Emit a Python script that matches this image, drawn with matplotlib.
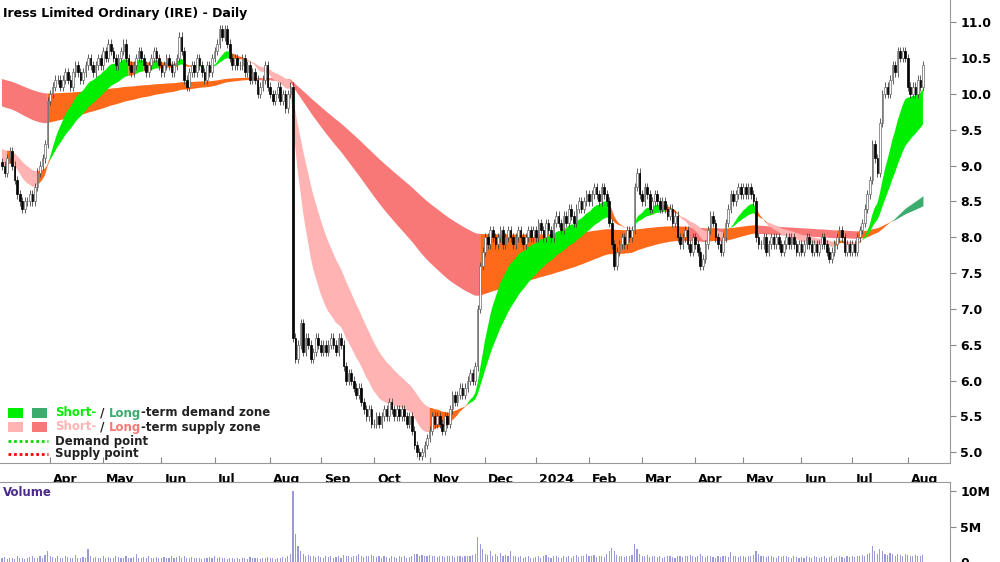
import matplotlib
matplotlib.use("Agg")
import matplotlib.pyplot as plt
import numpy as np

closes_by_month = [
    [9.0,8.9,9.1,9.2,9.0,8.8,8.6,8.5,8.4,8.5,8.5,8.6,8.5,8.7,8.9,9.0,9.1,9.3,9.9],
    [10.0,10.1,10.2,10.2,10.1,10.2,10.3,10.2,10.1,10.3,10.4,10.3,10.2,10.3,10.4,10.5,10.4,10.3,10.4,10.5,10.4],
    [10.6,10.5,10.7,10.6,10.5,10.4,10.5,10.6,10.7,10.5,10.4,10.3,10.4,10.5,10.6,10.5,10.4,10.3,10.4,10.5,10.6,10.5,10.4],
    [10.3,10.4,10.5,10.4,10.3,10.4,10.5,10.8,10.6,10.2,10.1,10.3,10.4,10.3,10.5,10.4,10.3,10.2,10.4,10.3,10.5],
    [10.6,10.7,10.9,10.8,10.9,10.7,10.5,10.4,10.5,10.4,10.4,10.5,10.3,10.4,10.2,10.3,10.2,10.0,10.1,10.2,10.4,10.1],
    [10.0,9.9,10.0,10.1,9.9,10.0,9.8,10.0,10.1,6.6,6.3,6.5,6.8,6.4,6.6,6.5,6.3,6.4,6.6,6.5],
    [6.4,6.5,6.4,6.5,6.6,6.5,6.4,6.6,6.5,6.2,6.0,6.1,6.0,5.9,5.8,5.9,5.7,5.6,5.5,5.6,5.4],
    [5.4,5.5,5.4,5.5,5.6,5.5,5.7,5.6,5.5,5.6,5.5,5.6,5.5,5.4,5.5,5.3,5.1,5.0,4.95,5.0,5.1,5.2],
    [5.3,5.5,5.4,5.5,5.4,5.3,5.5,5.4,5.6,5.8,5.7,5.8,5.9,5.8,5.9,6.0,6.1,6.0,6.2,7.0,7.6,7.8],
    [8.0,7.9,8.1,8.0,7.9,8.0,8.1,7.9,8.0,8.1,8.0,7.9,8.0,8.1,8.0,7.9,8.0,8.1,8.0,8.1],
    [8.0,8.2,8.1,8.0,8.2,8.1,8.0,8.2,8.3,8.2,8.1,8.3,8.2,8.4,8.3,8.2,8.4,8.5,8.4,8.5,8.6],
    [8.5,8.6,8.7,8.6,8.5,8.7,8.6,8.5,8.2,7.9,7.6,7.8,7.9,8.0,7.9,8.1,8.0,8.1,8.7,8.9,8.6],
    [8.5,8.7,8.6,8.4,8.5,8.6,8.5,8.4,8.5,8.4,8.3,8.4,8.2,8.3,8.0,7.9,8.0,8.1,7.9,7.8,8.0],
    [7.9,7.8,7.6,7.7,7.9,8.1,8.3,8.2,8.0,7.9,7.8,8.0,8.2,8.4,8.6,8.5,8.6,8.7,8.6],
    [8.7,8.6,8.7,8.6,8.5,8.0,7.9,7.9,8.0,7.8,7.9,8.0,7.9,8.0,7.9,7.8,7.9,8.0,7.9,8.0,7.9,7.8,7.9],
    [7.8,7.9,8.0,7.9,7.8,7.9,7.8,7.9,8.0,7.9,7.8,7.7,7.8,7.9,8.0,8.1,8.0,7.8,7.9,7.8],
    [7.9,7.8,8.0,8.1,8.2,8.4,8.6,8.8,9.3,9.1,8.9,9.6,10.0,10.1,10.0,10.2,10.4,10.3,10.6,10.5,10.6,10.5],
    [10.1,10.0,10.1,10.0,10.2,10.1,10.4],
]
# volume in millions
volume_by_month = [
    [0.5,0.7,0.4,0.6,0.5,0.4,0.8,0.5,0.6,0.4,0.5,0.7,0.9,0.6,0.5,0.8,0.6,1.0,1.6],
    [0.9,0.7,0.6,0.8,0.5,0.6,0.9,0.7,0.5,0.6,1.0,0.6,0.5,0.7,0.6,1.8,0.8,0.6,0.7,0.5,0.6],
    [0.8,0.6,0.7,0.5,0.6,0.9,0.7,0.5,0.6,0.8,0.6,0.5,0.7,1.2,0.6,0.5,0.7,0.6,0.8,0.5,0.6,0.7,0.5],
    [0.6,0.7,0.5,0.6,0.8,0.5,0.7,0.9,0.6,0.8,0.5,0.6,0.7,0.5,0.6,0.5,0.4,0.6,0.5,0.7,0.5],
    [0.8,0.6,0.7,0.5,0.6,0.4,0.5,0.6,0.4,0.5,0.4,0.6,0.5,0.4,0.7,0.5,0.6,0.5,0.4,0.6,0.5,0.7],
    [0.5,0.6,0.4,0.5,0.6,0.7,0.5,0.9,1.2,10.0,4.0,2.2,1.5,1.2,0.9,1.0,0.8,0.9,0.7,0.8],
    [0.7,0.6,0.8,0.7,0.9,0.6,0.7,0.8,0.6,1.0,0.9,0.8,0.7,0.9,0.8,1.2,0.8,0.7,0.9,0.8,1.0],
    [0.8,0.7,0.9,0.6,0.8,0.7,0.6,0.8,0.7,0.6,0.9,0.7,0.8,0.6,0.7,0.9,1.1,1.2,0.9,1.0,0.8,0.9],
    [1.0,0.8,0.9,0.7,0.8,0.9,0.7,0.8,0.9,0.8,0.7,0.9,0.8,0.7,0.8,0.9,0.8,1.0,1.2,3.5,2.5,1.8],
    [1.2,1.0,1.6,0.9,1.1,0.8,1.3,0.9,1.0,0.8,1.5,0.9,0.8,0.7,0.9,0.6,0.7,0.8,0.5,0.6],
    [0.7,0.9,0.6,0.8,1.0,0.7,0.6,0.8,0.9,0.7,0.6,0.8,0.7,0.9,0.6,0.8,1.0,0.7,0.9,0.8,1.1],
    [0.9,0.8,1.0,0.7,0.8,0.9,0.7,1.2,1.5,2.0,1.6,1.0,0.9,0.8,0.7,0.8,0.9,1.0,2.5,1.8,1.2],
    [0.9,0.8,1.0,0.7,0.8,0.9,0.7,0.8,0.6,0.7,0.9,0.8,0.7,0.6,0.8,0.9,0.7,0.8,0.9,1.0,0.8],
    [0.7,0.9,1.1,0.8,0.7,0.9,0.8,0.7,0.6,0.8,0.7,0.9,0.8,0.7,1.4,0.9,0.8,0.7,0.9],
    [0.8,0.7,0.9,0.8,1.0,1.6,1.2,0.9,0.8,0.7,0.9,0.8,0.7,0.6,0.8,0.7,0.9,0.8,0.7,0.6,0.8,0.7,0.6],
    [0.7,0.6,0.8,0.7,0.6,0.8,0.7,0.6,0.7,0.8,0.6,0.7,0.8,0.6,0.7,0.9,0.7,0.6,0.8,0.7],
    [0.8,0.7,0.9,0.8,1.0,0.9,1.1,1.3,2.2,1.5,1.2,1.8,1.6,1.2,1.0,1.3,1.1,0.9,1.2,1.0,0.9,1.1],
    [1.0,0.9,0.8,1.0,0.9,0.8,1.0],
]
tick_labels = ["Apr", "May", "Jun", "Jul", "Aug", "Sep", "Oct", "Nov", "Dec",
               "2024", "Feb", "Mar", "Apr", "May", "Jun", "Jul", "Aug"]

close = np.array([c for m in closes_by_month for c in m])
vol = np.array([v for m in volume_by_month for v in m]) * 1e6
n = len(close)
idx = np.arange(n)
month_starts = np.cumsum([0] + [len(m) for m in closes_by_month])[1:-1]

opn = np.concatenate([[close[0] + 0.05], close[:-1]])
hi = np.maximum(opn, close) + 0.06
lo = np.minimum(opn, close) - 0.06

def ema(x, p, seed):
    a = 2.0 / (p + 1)
    out = np.empty_like(x)
    v = seed
    for i, xi in enumerate(x):
        v = v + a * (xi - v)
        out[i] = v
    return out

s_fast = ema(close, 15, 9.0)
s_slow = ema(close, 32, 9.25)
l_fast = ema(close, 130, 9.84)
l_slow = ema(close, 220, 10.22)

fig = plt.figure(figsize=(10, 5.62), dpi=100)
ax = fig.add_axes([0, 1 - 463 / 562, 0.95, 463 / 562])
axv = fig.add_axes([0, 0, 0.95, 80 / 562])
xlim = (-0.8, 374.7)

def draw_zone(fast, slow, up_col, dn_col):
    lowb = np.minimum(fast, slow)
    upb = np.maximum(fast, slow)
    raw = np.where(fast >= slow, np.where(close < fast, 2, 0),
                   np.where(close > fast, 2, 1))
    # a state change only counts once it holds for two days
    cls = raw.copy()
    for i in range(1, n):
        if raw[i] != cls[i - 1] and not (i + 1 < n and raw[i + 1] == raw[i]):
            cls[i] = cls[i - 1]
    cols = {0: up_col, 1: dn_col, 2: "#ff6a1a"}
    for k, c in cols.items():
        m = cls == k
        m2 = m | np.concatenate([[False], m[:-1]])
        ax.fill_between(idx, lowb, upb, where=m2, color=c, lw=0, zorder=1)

draw_zone(l_fast, l_slow, "#3cab6e", "#f87878")
draw_zone(s_fast, s_slow, "#00ee00", "#ffb3b3")

# candles
up = close >= opn
ax.vlines(idx, lo, hi, color="#444444", lw=0.6, zorder=3)
ax.bar(idx[up], (close - opn)[up], bottom=opn[up], width=0.65,
       color="white", edgecolor="#666666", lw=0.5, zorder=4)
ax.bar(idx[~up], (close - opn)[~up], bottom=opn[~up], width=0.65,
       color="black", edgecolor="black", lw=0.5, zorder=4)

ax.set_xlim(*xlim)
ax.set_ylim(4.85, 11.31)
ax.yaxis.tick_right()
ax.set_yticks(np.arange(5.0, 11.01, 0.5))
ax.set_yticklabels([f"{v:.1f}" for v in np.arange(5.0, 11.01, 0.5)],
                   fontsize=9, fontweight="bold")
ax.set_xticks(month_starts)
ax.set_xticklabels([])
ax.tick_params(axis="x", direction="in", length=4, color="#888888")
ax.tick_params(axis="y", length=4, color="#888888")
for s in ["top", "left"]:
    ax.spines[s].set_visible(False)
for s in ["right", "bottom"]:
    ax.spines[s].set_color("#999999")
for m, lab in zip(month_starts, tick_labels):
    ax.text(m + 1.2, -0.035, lab, transform=ax.get_xaxis_transform(),
            fontsize=9, fontweight="bold", va="center", ha="left", clip_on=False)
ax.text(0.003, 0.985, "Iress Limited Ordinary (IRE) - Daily",
        transform=ax.transAxes, fontsize=9, fontweight="bold", va="top")

# legend
def px(x, y):
    return (x / 950, 1 - y / 463)

for row, (c1, c2) in enumerate([("#00ee00", "#3cab6e"), ("#ffb3b3", "#f87878")]):
    y = 413 + row * 14
    for x0, c in [(8, c1), (32, c2)]:
        ax.add_patch(plt.Rectangle(px(x0, y + 5), 15 / 950, 10 / 463,
                                   transform=ax.transAxes, color=c, lw=0, zorder=5))
    parts = [("Short-", c1), (" / ", "#222222"), ("Long", c2),
             ("-term demand zone" if row == 0 else "-term supply zone", "#222222")]
    t = ax.text(*px(55, y), parts[0][0], transform=ax.transAxes, color=parts[0][1],
                fontsize=8.5, fontweight="bold", va="center", zorder=6)
    for txt, c in parts[1:]:
        t = ax.annotate(txt, xy=(1, 0), xycoords=t, color=c, fontsize=8.5,
                        fontweight="bold", va="bottom", zorder=6)
for row, (c, lab) in enumerate([("#00dd00", "Demand point"), ("#ff0000", "Supply point")]):
    y = 441 + row * 13
    ax.plot([8 / 950, 48 / 950], [1 - y / 463] * 2, transform=ax.transAxes,
            color=c, lw=2, ls=(0, (1, 1)), zorder=6)
    ax.text(*px(55, y), lab, transform=ax.transAxes, fontsize=8.5,
            fontweight="bold", va="center", color="#222222", zorder=6)

# volume
axv.bar(idx, vol, width=0.45, color="#9a9ad6", lw=0)
axv.set_xlim(*xlim)
axv.set_ylim(0, 11.3e6)
axv.yaxis.tick_right()
axv.set_yticks([0, 5e6, 10e6])
axv.set_yticklabels(["0", "5M", "10M"], fontsize=9, fontweight="bold")
axv.set_xticks([])
axv.tick_params(axis="y", length=4, color="#888888")
for s in ["bottom", "left"]:
    axv.spines[s].set_visible(False)
for s in ["right", "top"]:
    axv.spines[s].set_color("#999999")
axv.text(0.003, 0.95, "Volume", transform=axv.transAxes, fontsize=8.5,
         fontweight="bold", va="top", color="#4b2a8a")

fig.savefig("out.png", dpi=100)
